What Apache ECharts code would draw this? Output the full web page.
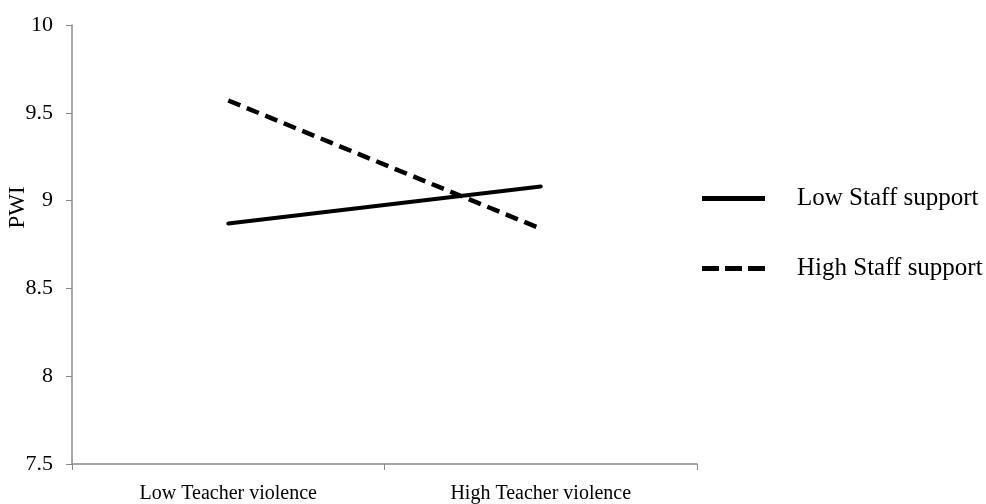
<!DOCTYPE html>
<html><head><meta charset="utf-8">
<script src="https://cdn.jsdelivr.net/npm/echarts@6/dist/echarts.min.js"></script>
<style>html,body{margin:0;padding:0;background:#fff}#c{width:986px;height:504px}</style>
</head><body><div id="c"></div>
<script>
const categories = ["Low Teacher violence", "High Teacher violence"];
const lowStaff = [8.87, 9.08];
const highStaff = [9.57, 8.84];
const seriesNames = ["Low Staff support", "High Staff support"];
const yTicks = [7.5, 8, 8.5, 9, 9.5, 10];

const font = "'Liberation Serif', 'Times New Roman', serif";
const solidIcon = 'path://M0,0h63v5h-63z';
const dashIcon = 'path://M0,0h17v5h-17z M23,0h17v5h-17z M46,0h17v5h-17z';
const chart = echarts.init(document.getElementById('c'));
chart.setOption({
  animation: false,
  backgroundColor: '#fff',
  grid: { left: 72, top: 25, right: 289, bottom: 40, containLabel: false, outerBoundsMode: 'none' },
  legend: {
    orient: 'vertical', left: 697, top: 181, itemGap: 45,
    itemWidth: 63, itemHeight: 24,
    textStyle: { fontFamily: font, fontSize: 25, lineHeight: 24, color: '#000', padding: [0,0,0,27] },
    data: [
      { name: seriesNames[0], icon: solidIcon },
      { name: seriesNames[1], icon: dashIcon }
    ]
  },
  xAxis: {
    type: 'category', data: categories, boundaryGap: true,
    axisLine: { lineStyle: { color: '#8a8a8a', width: 1.5 } },
    axisTick: { show: true, length: 6, lineStyle: { color: '#8a8a8a' } },
    axisLabel: { fontFamily: font, fontSize: 20, color: '#000', margin: 20 }
  },
  yAxis: {
    type: 'value', min: 7.5, max: 10, interval: 0.5,
    name: 'PWI', nameLocation: 'middle', nameGap: 43, nameRotate: 90, nameMoveOverlap: false,
    nameTextStyle: { fontFamily: font, fontSize: 23, color: '#000', padding: [0,0,0,74] },
    splitLine: { show: false },
    axisLine: { show: true, lineStyle: { color: '#8a8a8a', width: 1.5 } },
    axisTick: { show: true, length: 6, lineStyle: { color: '#8a8a8a' } },
    axisLabel: { fontFamily: font, fontSize: 22, color: '#000', margin: 19,
      formatter: v => yTicks.includes(v) ? String(v) : '' }
  },
  series: [
    { name: seriesNames[0], type: 'line', data: lowStaff, symbol: 'none',
      lineStyle: { color: '#000', width: 4, cap: 'round' }, itemStyle: { color: '#000' } },
    { name: seriesNames[1], type: 'line', data: highStaff, symbol: 'none',
      lineStyle: { color: '#000', width: 4.5, type: [13, 7], cap: 'butt' }, itemStyle: { color: '#000' } }
  ]
});
</script></body></html>
